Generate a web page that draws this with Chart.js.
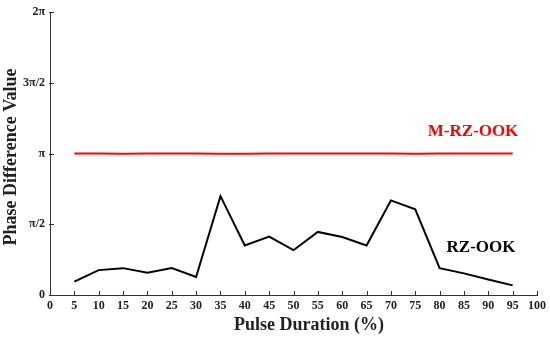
<!DOCTYPE html>
<html>
<head>
<meta charset="utf-8">
<script src="https://cdn.jsdelivr.net/npm/chart.js@4.4.0/dist/chart.umd.min.js"></script>
<style>
  html, body { margin: 0; padding: 0; background: #fff; }
  #wrap { width: 550px; height: 345px; }
</style>
</head>
<body>
<div id="wrap"><canvas id="phaseChart"></canvas></div>
<script>
// Pulse duration (%) and phase difference, in units of pi
const pulseDuration = [5, 10, 15, 20, 25, 30, 35, 40, 45, 50, 55, 60, 65, 70, 75, 80, 85, 90, 95];
const mRzOokPi = [1.0, 1.0, 0.999, 1.0, 1.001, 1.0, 0.999, 0.999, 1.0, 1.001, 1.001, 1.001, 1.001, 1.0, 0.999, 1.0, 1.001, 1.0, 1.0];
const rzOokPi = [0.094, 0.176, 0.19, 0.157, 0.19, 0.127, 0.699, 0.35, 0.413, 0.317, 0.446, 0.41, 0.35, 0.669, 0.606, 0.19, 0.153, 0.11, 0.068];
const yTickLabels = { 0: '0', 0.5: 'π/2', 1: 'π', 1.5: '3π/2', 2: '2π' };

const serif = '"Liberation Serif", "Times New Roman", serif';

const toPoints = (ys) => pulseDuration.map((x, i) => ({ x: x, y: ys[i] }));

// inward tick marks, axis titles and series labels
const decorations = {
    id: 'decorations',
    afterDraw(chart) {
        const { ctx, chartArea, scales } = chart;
        ctx.save();
        ctx.strokeStyle = '#333';
        ctx.lineWidth = 1;
        scales.x.ticks.forEach(t => {
            const px = Math.round(scales.x.getPixelForValue(t.value)) + 0.5;
            ctx.beginPath();
            ctx.moveTo(px, chartArea.bottom);
            ctx.lineTo(px, chartArea.bottom - 4);
            ctx.stroke();
        });
        scales.y.ticks.forEach(t => {
            const py = Math.round(scales.y.getPixelForValue(t.value)) + 0.5;
            ctx.beginPath();
            ctx.moveTo(chartArea.left - 1, py);
            ctx.lineTo(chartArea.left + 4, py);
            ctx.stroke();
        });

        ctx.fillStyle = '#222';
        ctx.font = 'bold 18px ' + serif;
        ctx.textAlign = 'center';
        ctx.textBaseline = 'middle';
        ctx.fillText('Pulse Duration (%)', 309, 325);

        ctx.save();
        ctx.translate(11, 157);
        ctx.rotate(-Math.PI / 2);
        ctx.fillText('Phase Difference Value', 0, 0);
        ctx.restore();

        ctx.font = 'bold 17px ' + serif;
        ctx.fillStyle = '#ff0000';
        ctx.fillText('M-RZ-OOK', 473, 132);
        ctx.fillStyle = '#000';
        ctx.fillText('RZ-OOK', 481, 248);
        ctx.restore();
    }
};

new Chart(document.getElementById('phaseChart'), {
    type: 'line',
    data: {
        datasets: [
            {
                label: 'M-RZ-OOK',
                data: toPoints(mRzOokPi),
                borderColor: '#ff0000',
                borderWidth: 2,
                pointRadius: 0,
                tension: 0
            },
            {
                label: 'RZ-OOK',
                data: toPoints(rzOokPi),
                borderColor: '#000000',
                borderWidth: 2,
                pointRadius: 0,
                tension: 0
            }
        ]
    },
    options: {
        responsive: true,
        maintainAspectRatio: false,
        animation: false,
        layout: { padding: { top: 11, right: 12, left: 0, bottom: 0 } },
        plugins: {
            legend: { display: false },
            tooltip: { enabled: false }
        },
        scales: {
            x: {
                type: 'linear',
                min: 0,
                max: 100,
                ticks: {
                    stepSize: 5,
                    color: '#222',
                    font: { family: serif, size: 12, weight: 'bold' },
                    padding: 4,
                    maxRotation: 0,
                    autoSkip: false
                },
                grid: { display: false, drawTicks: false },
                border: { display: true, color: '#333', width: 1 },
                afterFit: (scale) => { scale.height = 50; }
            },
            y: {
                min: 0,
                max: 2,
                ticks: {
                    stepSize: 0.5,
                    color: '#222',
                    font: { family: serif, size: 12, weight: 'bold' },
                    padding: 5,
                    callback: (v) => yTickLabels[v] ?? ''
                },
                grid: { display: false, drawTicks: false },
                border: { display: true, color: '#333', width: 1 },
                afterFit: (scale) => { scale.width = 50; }
            }
        }
    },
    plugins: [decorations]
});
</script>
</body>
</html>
